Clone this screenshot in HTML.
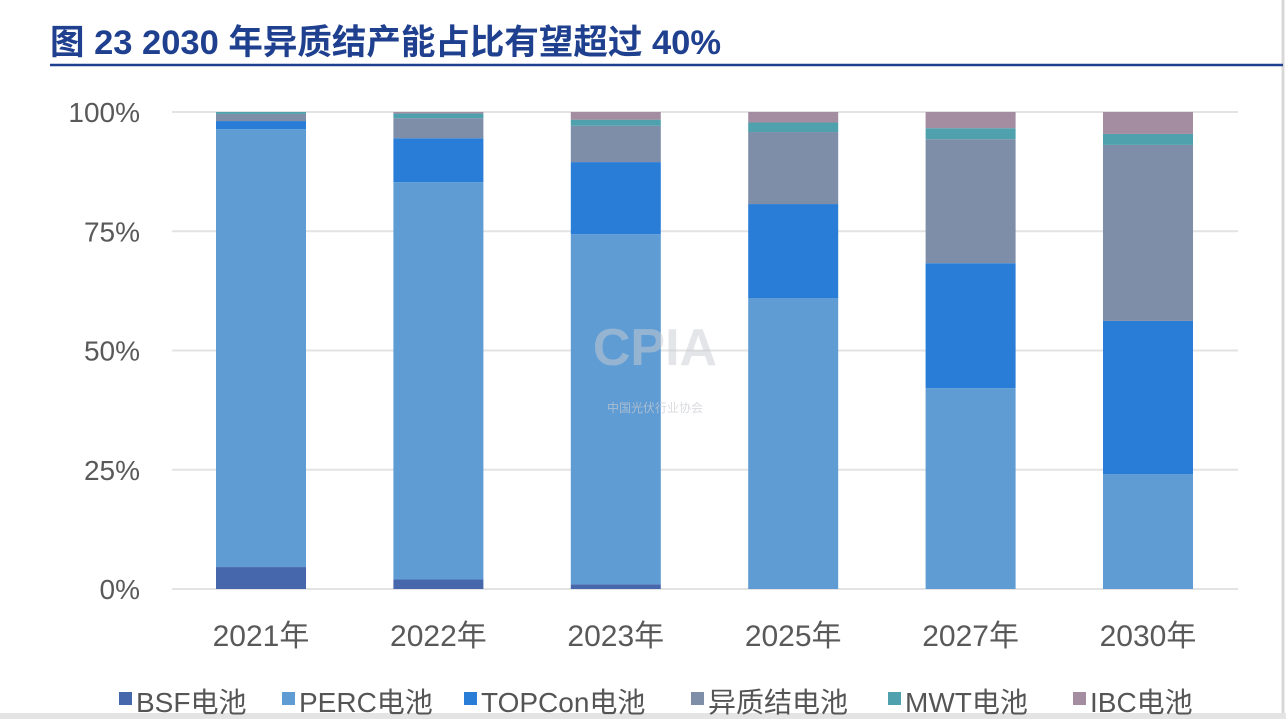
<!DOCTYPE html>
<html><head><meta charset="utf-8"><style>
body{margin:0;width:1286px;height:719px;background:#fff;overflow:hidden;font-family:"Liberation Sans","Noto Sans CJK SC",sans-serif;}
</style></head><body>
<svg id="chart" width="1286" height="719" xmlns="http://www.w3.org/2000/svg" style="position:absolute;left:0;top:0">
<rect x="0" y="0" width="1286" height="719" fill="#fff"/>
<line x1="1283" y1="0" x2="1283" y2="719" stroke="#d8d8d8" stroke-width="3"/>
<rect x="0" y="713" width="1286" height="6" fill="#e4e4e4"/>
<text x="50" y="54" font-size="34.5" font-weight="bold" fill="#1f3f8f" font-family="Liberation Sans, Noto Sans CJK SC, sans-serif">图 23 2030 年异质结产能占比有望超过 40%</text>
<line x1="50" y1="65" x2="1283" y2="65" stroke="#1f3f8f" stroke-width="2.5"/>
<g id="grid"></g><g id="bars"></g><g id="xlabels"></g><g id="legend"></g>
<text x="655" y="365" font-size="52" font-weight="bold" fill="#c9ccd2" opacity="0.5" text-anchor="middle">CPIA</text>
<text x="655" y="412" font-size="12" fill="#c9ccd2" opacity="0.7" text-anchor="middle">中国光伏行业协会</text>
</svg>
<script>
const categories=["2021年","2022年","2023年","2025年","2027年","2030年"];
const seriesNames=["BSF电池","PERC电池","TOPCon电池","异质结电池","MWT电池","IBC电池"];
const bsf=[4.6,2.0,1.0,0,0,0];
const perc=[91.8,83.3,73.4,61.0,42.1,24.1];
const topcon=[1.7,9.2,15.1,19.7,26.2,32.1];
const hjt=[1.5,4.2,7.6,15.1,26.0,36.9];
const mwt=[0.4,1.0,1.3,2.0,2.3,2.3];
const ibc=[0,0.3,1.6,2.2,3.4,4.6];
const yTicks=[0,25,50,75,100];
const colors=["#4767ad","#5f9cd4","#2a7dd7","#7e8ea9","#4fa2ad","#a48da0"];
const series=[bsf,perc,topcon,hjt,mwt,ibc];
const NS="http://www.w3.org/2000/svg";
const y0=589,y1=112,x0=216,step=177.4,bw=90;
const yS=v=>y0-(v/100)*(y0-y1);
const xS=i=>x0+i*step;
function mk(t,a,p){const e=document.createElementNS(NS,t);for(const k in a)e.setAttribute(k,a[k]);p.appendChild(e);return e;}
const grid=document.getElementById('grid');
yTicks.forEach(t=>{
  const l=mk('line',{x1:172,x2:1238,y1:yS(t),y2:yS(t),stroke:'#e3e3e3','stroke-width':2},grid);
  
  
  const tx=mk('text',{x:140,y:yS(t)+10,'font-size':28,fill:'#595959','text-anchor':'end'},grid);
  tx.textContent=t+'%';
  
  
});
const bars=document.getElementById('bars');
categories.forEach((c,i)=>{
  let acc=0;
  series.forEach((s,j)=>{
    const v=s[i];
    if(v>0){
      const r=mk('rect',{x:xS(i),y:yS(acc+v),width:bw,height:yS(acc)-yS(acc+v),fill:colors[j]},bars);
      
      
    }
    acc+=v;
  });
  const t=mk('text',{x:xS(i)+bw/2,y:646,'font-size':30,fill:'#595959','text-anchor':'middle'},document.getElementById('xlabels'));
  t.textContent=c;
  
  
});
const legend=document.getElementById('legend');
const lx=[119,282,464,691,888,1073];
seriesNames.forEach((n,j)=>{
  const g=mk('g',{},legend);
  
  
  mk('rect',{x:lx[j],y:692,width:13,height:13,fill:colors[j]},g);
  const t=mk('text',{x:lx[j]+17,y:712,'font-size':28,fill:'#555'},g);
  t.textContent=n;
});
</script>
</body></html>
